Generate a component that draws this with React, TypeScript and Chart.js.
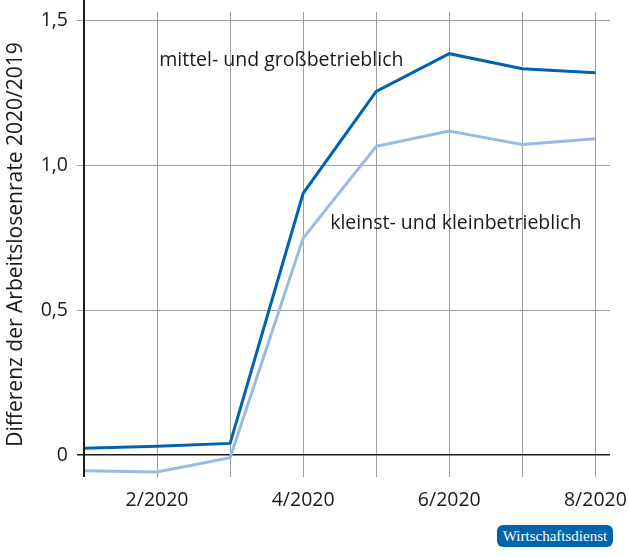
import { useEffect, useRef } from "react";
import { Chart, registerables } from "chart.js";

Chart.register(...registerables);

const months = [1, 2, 3, 4, 5, 6, 7, 8];
const monthLabels = ["1/2020", "2/2020", "3/2020", "4/2020", "5/2020", "6/2020", "7/2020", "8/2020"];
const mittelGross = [0.023, 0.03, 0.04, 0.904, 1.256, 1.386, 1.334, 1.32];
const kleinstKlein = [-0.054, -0.059, -0.009, 0.749, 1.066, 1.119, 1.072, 1.092];
const yTicks = [0, 0.5, 1, 1.5];
const xTicks = [2, 4, 6, 8];

const FONT = "'Open Sans', 'Noto Sans', sans-serif";

// labels placed in data coordinates: [x, y, text]
const seriesLabels: [number, number, string][] = [
  [2.03, 1.363, "mittel- und großbetrieblich"],
  [4.37, 0.8, "kleinst- und kleinbetrieblich"],
];

const labelPlugin = {
  id: "seriesLabels",
  afterDraw(chart: Chart) {
    const { ctx, scales, chartArea } = chart;
    ctx.save();
    // y axis line running up to the top edge
    ctx.strokeStyle = "#1a1a1a";
    ctx.lineWidth = 2;
    ctx.beginPath();
    ctx.moveTo(chartArea.left, 0);
    ctx.lineTo(chartArea.left, chartArea.bottom);
    ctx.stroke();
    ctx.fillStyle = "#1a1a1a";
    ctx.font = `19.5px ${FONT}`;
    ctx.textBaseline = "middle";
    ctx.textAlign = "left";
    seriesLabels.forEach(([x, y, text]) => {
      ctx.fillText(text, scales.x.getPixelForValue(x), scales.y.getPixelForValue(y));
    });
    ctx.restore();
  },
};

export default function App() {
  const canvasRef = useRef<HTMLCanvasElement>(null);

  useEffect(() => {
    if (!canvasRef.current) return;
    const chart = new Chart(canvasRef.current, {
      type: "line",
      data: {
        datasets: [
          {
            label: "mittel- und großbetrieblich",
            data: months.map((m, i) => ({ x: m, y: mittelGross[i] })),
            borderColor: "#0064ad",
            borderWidth: 3,
            pointRadius: 0,
            tension: 0,
          },
          {
            label: "kleinst- und kleinbetrieblich",
            data: months.map((m, i) => ({ x: m, y: kleinstKlein[i] })),
            borderColor: "#9ab9e5",
            borderWidth: 3,
            pointRadius: 0,
            tension: 0,
          },
        ],
      },
      options: {
        animation: false,
        responsive: true,
        maintainAspectRatio: false,
        layout: { padding: { top: 12, right: 19, left: 0, bottom: 0 } },
        plugins: { legend: { display: false }, tooltip: { enabled: false } },
        scales: {
          x: {
            type: "linear",
            min: 1,
            max: 8.2,
            afterBuildTicks: (scale) => {
              scale.ticks = months.map((v) => ({ value: v }));
            },
            afterFit: (scale) => {
              scale.height = 80;
              scale.paddingLeft = 0;
              scale.paddingRight = 0;
            },
            ticks: {
              color: "#1a1a1a",
              font: { family: FONT, size: 19.5 },
              padding: 12,
              maxRotation: 0,
              autoSkip: false,
              callback: (v) => (xTicks.includes(Number(v)) ? monthLabels[Number(v) - 1] : ""),
            },
            grid: { color: "#a0a0a0", lineWidth: 1, drawTicks: false },
            border: { display: false },
          },
          y: {
            min: -0.076,
            max: 1.53,
            afterBuildTicks: (scale) => {
              scale.ticks = yTicks.map((v) => ({ value: v }));
            },
            afterFit: (scale) => {
              scale.width = 84;
              scale.paddingTop = 0;
              scale.paddingBottom = 0;
            },
            ticks: {
              color: "#1a1a1a",
              font: { family: FONT, size: 19.5 },
              padding: 9,
              callback: (v) => (Number(v) === 0 ? "0" : Number(v).toFixed(1).replace(".", ",")),
            },
            grid: {
              color: (c) => (c.tick && c.tick.value === 0 ? "#1a1a1a" : "#a0a0a0"),
              lineWidth: (c) => (c.tick && c.tick.value === 0 ? 1.5 : 1),
              tickLength: 7,
            },
            border: { display: false },
            title: {
              display: true,
              text: "Differenz der Arbeitslosenrate 2020/2019",
              color: "#1a1a1a",
              font: { family: FONT, size: 21 },
              padding: { top: 3, bottom: 0 },
            },
          },
        },
      },
      plugins: [labelPlugin],
    });
    return () => chart.destroy();
  }, []);

  return (
    <div style={{ position: "fixed", left: 0, top: 0, width: 629, height: 557, background: "#fff" }}>
      <canvas ref={canvasRef} />
      <div
        style={{
          position: "absolute",
          left: 497,
          top: 525,
          width: 116,
          height: 22,
          background: "#0064ad",
          borderRadius: 6,
          color: "#fff",
          fontFamily: "'Liberation Serif', 'DejaVu Serif', serif",
          fontSize: 15,
          lineHeight: "22px",
          textAlign: "center",
        }}
      >
        Wirtschaftsdienst
      </div>
    </div>
  );
}
